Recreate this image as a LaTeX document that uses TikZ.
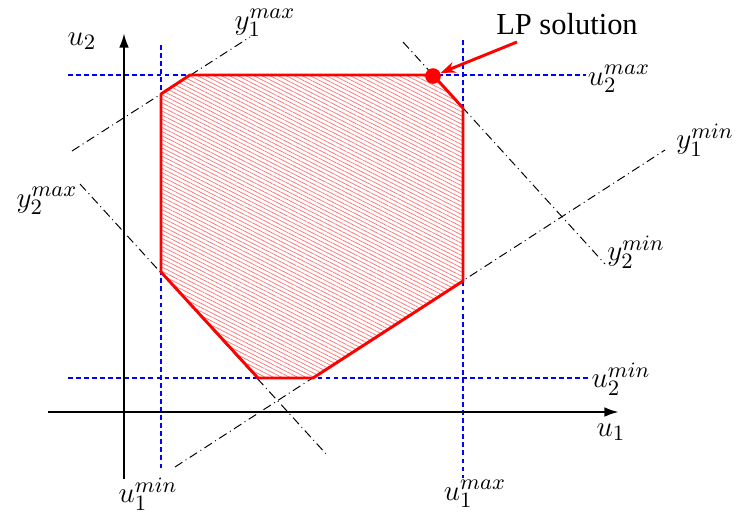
\documentclass[tikz,border=0pt]{standalone}
\usepackage{fontspec}
\setmainfont{Liberation Serif}
\usetikzlibrary{patterns.meta,arrows.meta}
\tikzset{
  bound/.style={blue, line width=0.45pt, dash pattern=on 2pt off 1.3pt},
  constr/.style={black, line width=0.4pt, dash pattern=on 3.6pt off 1.6pt on 0.4pt off 1.6pt},
  axis/.style={black, line width=1pt, -{Latex[length=6pt,width=4pt]}},
  feas/.style={red, line width=1.2pt, line join=round},
  lbl/.style={inner sep=0pt, font=\fontsize{12.5}{14}\selectfont},
}
\begin{document}
\begin{tikzpicture}[x=0.41pt,y=-0.41pt]
\useasboundingbox (0,0) rectangle (741,513);
% vertices
\coordinate (A) at (161,94);
\coordinate (B) at (190,75);
\coordinate (C) at (433,75);
\coordinate (D) at (463,108);
\coordinate (E) at (463,281);
\coordinate (F) at (313,378);
\coordinate (G) at (258,378);
\coordinate (H) at (161,272);
% hatch
\fill[pattern={Lines[angle=-27,distance=1.5pt,line width=0.3pt]}, pattern color=red!55]
  (A) -- (B) -- (C) -- (D) -- (E) -- (F) -- (G) -- (H) -- cycle;
% bounds
\coordinate (u1a) at (161,45); \coordinate (u1b) at (161,470);
\coordinate (u1c) at (463,40); \coordinate (u1d) at (463,478);
\coordinate (u2a) at (68,75);  \coordinate (u2b) at (586,75);
\coordinate (u2c) at (68,378); \coordinate (u2d) at (588,378);
\draw[bound] (u1a) -- (u1b);
\draw[bound] (u1c) -- (u1d);
\draw[bound] (u2a) -- (u2b);
\draw[bound] (u2c) -- (u2d);
% output constraints
\coordinate (y1a) at (72,151);  \coordinate (y1b) at (250,37);
\coordinate (y1c) at (175,467); \coordinate (y1d) at (665,150);
\coordinate (y2a) at (80,184);  \coordinate (y2b) at (328,456);
\coordinate (y2c) at (403,42);  \coordinate (y2d) at (605,264);
\draw[constr] (y1a) -- (y1b);
\draw[constr] (y1c) -- (y1d);
\draw[constr] (y2a) -- (y2b);
\draw[constr] (y2c) -- (y2d);
% feasible set outline
\draw[feas] (A) -- (B) -- (C) -- (D) -- (E) -- (F) -- (G) -- (H) -- cycle;
% axes
\coordinate (x0) at (48,412); \coordinate (x1) at (619,412);
\coordinate (v0) at (124,479); \coordinate (v1) at (124,33);
\draw[axis] (x0) -- (x1);
\draw[axis] (v0) -- (v1);
% labels
\node[lbl] (lu1) at (611,432) {$u_1$};
\node[lbl] (lu2) at (82,41) {$u_2$};
\node[lbl] (lu2max) at (619,79) {$u_2^{max}$};
\node[lbl] (lu2min) at (621,379) {$u_2^{min}$};
\node[lbl] (lu1min) at (148,494) {$u_1^{min}$};
\node[lbl] (lu1max) at (475,494) {$u_1^{max}$};
\node[lbl] (ly1max) at (265,23) {$y_1^{max}$};
\node[lbl] (ly1min) at (705,140) {$y_1^{min}$};
\node[lbl] (ly2max) at (47,201) {$y_2^{max}$};
\node[lbl] (ly2min) at (636,252) {$y_2^{min}$};
\node[lbl, font=\fontsize{12.5}{14}\selectfont] (lp) at (567,24) {LP solution};
% LP point and arrow
\node[circle, fill=red, inner sep=0pt, minimum size=6.4pt] (dot) at (433,76) {};
\coordinate (arr) at (517,42);
\draw[red, line width=1.2pt, -{Stealth[length=6pt,width=4.5pt]}] (arr) -- (dot);
\end{tikzpicture}
\end{document}
